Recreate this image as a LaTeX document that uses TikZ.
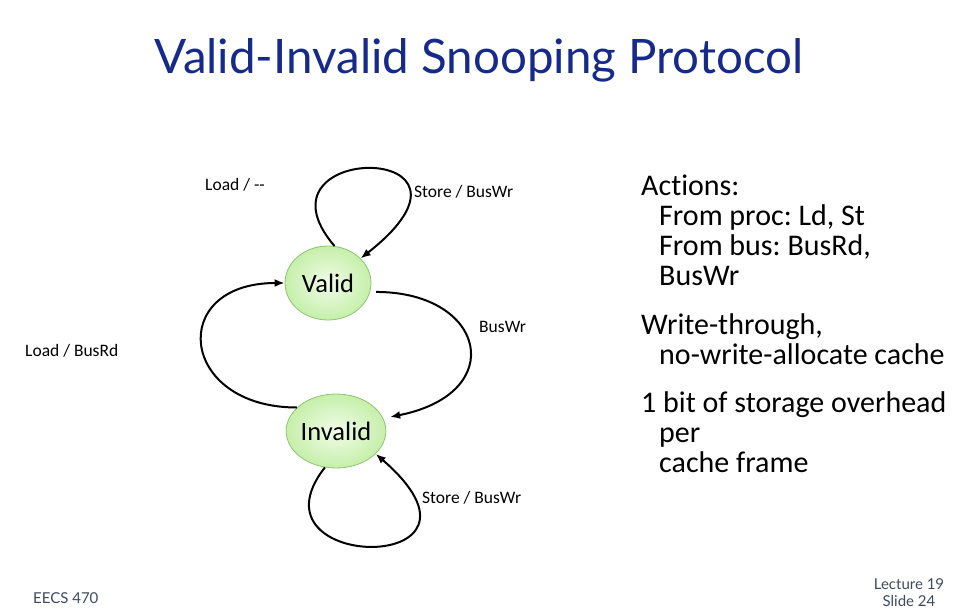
\documentclass[tikz,border=0pt]{standalone}
\usepackage{fontspec}
\setmainfont[Ligatures={TeX,NoCommon}]{Carlito}
\newfontfamily\titlefont{Lato}
\usetikzlibrary{shapes.geometric, arrows.meta, positioning}
\definecolor{titleblue}{RGB}{22,42,140}
\definecolor{footgray}{RGB}{62,74,94}
\definecolor{stin}{RGB}{240,252,232}
\definecolor{stout}{RGB}{198,239,170}
\definecolor{stline}{RGB}{140,198,110}

\begin{document}
\frenchspacing
\begin{tikzpicture}[x=1pt, y=1pt,
  state/.style={ellipse, draw=stline, line width=0.8pt, inner color=stin, outer color=stout,
                minimum width=86pt, minimum height=74pt, inner sep=0pt,
                font=\fontsize{26.5}{28}\selectfont},
  lbl/.style={font=\fontsize{17.5}{20}\selectfont, inner sep=0pt, anchor=west},
  bullets/.style={font=\fontsize{30}{30}\selectfont, align=left, anchor=base west, inner sep=0pt},
  foot/.style={font=\titlefont\fontsize{15}{17}\selectfont, text=footgray, align=center, inner sep=0pt},
  arr/.style={-{Latex[length=10pt, width=8pt]}, line width=2pt}]
\useasboundingbox (0,0) rectangle (958,-612);
\node[font=\titlefont\fontsize{47.5}{50}\selectfont, text=titleblue, anchor=base] (title) at (479,-74)
  {Valid-Invalid Snooping Protocol};
% states
\node[state] (valid) at (328,-283) {Valid};
\node[state] (invalid) at (336,-431) {Invalid};
% transitions
\draw[arr] (valid.80) .. controls +(-90,105) and +(150,118) .. (valid.37);
\draw[arr] (invalid.149) .. controls +(-118,0) and +(-118,0) .. (valid.180);
\draw[arr, shorten <=6pt, shorten >=7pt] (valid.-12) .. controls +(116,0) and +(126,25) .. (invalid.15);
\draw[arr] (invalid.253) .. controls +(-83,-106) and +(141,-122) .. (invalid.-30);
\node[lbl] (ldv) at (205,-185) {Load / {-}{-}};
\node[lbl] (stv) at (414,-192) {Store / BusWr};
\node[lbl] (bwr) at (479,-327) {BusWr};
\node[lbl] (ldi) at (25,-351) {Load / BusRd};
\node[lbl] (sti) at (422,-498) {Store / BusWr};
% notes on the right
\node[bullets] (actions) at (641,-286)
  {Act\kern0pt ions:\\\hspace*{18pt}From proc: Ld, St\\\hspace*{18pt}From bus: BusRd,\\\hspace*{18pt}BusWr};
\node[bullets] (policy) at (641,-364)
  {Write-through,\\\hspace*{18pt}no-write-allocate cache};
\node[bullets] (overhead) at (641,-472)
  {1 bit of storage overhead\\\hspace*{18pt}per\\\hspace*{18pt}cache frame};
% footer
\node[foot, anchor=west] (course) at (33,-598) {EECS 470};
\node[foot] (slide) at (909,-593) {Lecture 19\\Slide 24};
\end{tikzpicture}
\end{document}
